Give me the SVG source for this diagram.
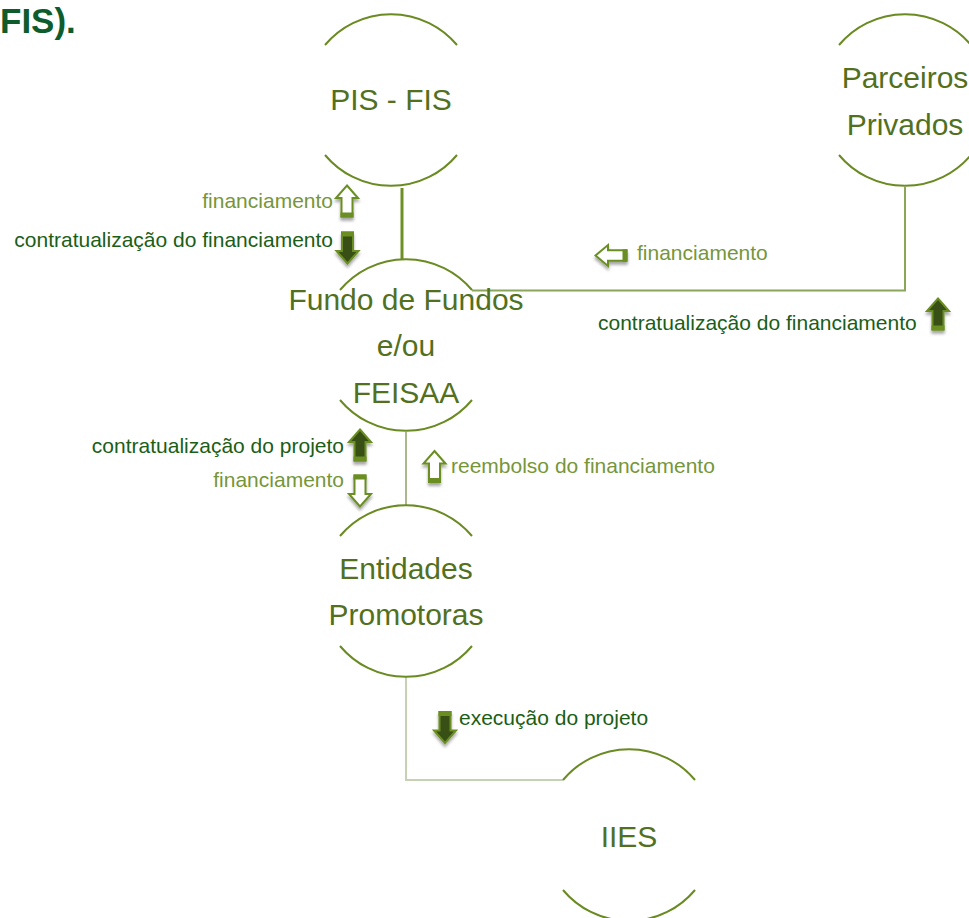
<svg xmlns="http://www.w3.org/2000/svg" xmlns:xlink="http://www.w3.org/1999/xlink" width="969" height="918" viewBox="0 0 969 918">
<style>
.arc{fill:none;stroke:#6a8a22;stroke-width:2}
.nt{font-family:"Liberation Sans",Arial,sans-serif;font-size:30px;fill:#52701d;text-anchor:middle}
.lbl{font-family:"Liberation Sans",Arial,sans-serif;font-size:21px}
.lt{fill:#76963a}
.dk{fill:#1a5e17}
.title{font-family:"Liberation Sans",Arial,sans-serif;font-size:35px;font-weight:bold;fill:#0e5c2c}
</style>
<defs>
<filter id="sh" x="-50%" y="-50%" width="200%" height="200%">
<feDropShadow dx="0" dy="3" stdDeviation="1.5" flood-color="#000" flood-opacity="0.35"/>
</filter>
<g id="aHollow">
<path d="M0,-15.5 L11,-3 L5.5,-3 L5.5,15.5 L-5.5,15.5 L-5.5,-3 L-11,-3 Z" fill="#fff" stroke="#6a8e22" stroke-width="2" stroke-linejoin="miter"/>
<rect x="-6.5" y="11.5" width="13" height="5" fill="#6a8e22"/>
</g>
<g id="aFilled">
<path d="M0,-15.5 L11,-3 L5.5,-3 L5.5,15.5 L-5.5,15.5 L-5.5,-3 L-11,-3 Z" fill="#384f13" stroke="#6a8e22" stroke-width="2" stroke-linejoin="miter"/>
<rect x="-6.5" y="11.5" width="13" height="5" fill="#6a8e22"/>
</g>
</defs>

<text class="title" x="0" y="33">FIS).</text>

<g id="connectors">
<line x1="402" y1="188" x2="402" y2="259" stroke="#6e8f24" stroke-width="3"/>
<polyline points="472,290.5 905,290.5 905,187" fill="none" stroke="#8aa65a" stroke-width="2"/>
<line x1="406" y1="432" x2="406" y2="505" stroke="#a9b98d" stroke-width="2"/>
<polyline points="406,677 406,780 563,780" fill="none" stroke="#c5d1b3" stroke-width="2"/>
</g>

<g id="node-pis">
<path class="arc" d="M325,45 A86,86 0 0,1 457,45"/>
<path class="arc" d="M325,155 A86,86 0 0,0 457,155"/>
<text class="nt" x="391" y="110">PIS - FIS</text>
</g>

<g id="node-parceiros">
<path class="arc" d="M839,45 A86,86 0 0,1 971,45"/>
<path class="arc" d="M839,155 A86,86 0 0,0 971,155"/>
<text class="nt" x="905" y="88">Parceiros</text>
<text class="nt" x="905" y="135">Privados</text>
</g>

<g id="node-fundo">
<path class="arc" d="M340,290 A86,86 0 0,1 472,290"/>
<path class="arc" d="M340,400 A86,86 0 0,0 472,400"/>
<text class="nt" x="406" y="310">Fundo de Fundos</text>
<text class="nt" x="406" y="356">e/ou</text>
<text class="nt" x="406" y="403">FEISAA</text>
</g>

<g id="node-entidades">
<path class="arc" d="M340,536 A86,86 0 0,1 472,536"/>
<path class="arc" d="M340,646 A86,86 0 0,0 472,646"/>
<text class="nt" x="406" y="579">Entidades</text>
<text class="nt" x="406" y="625">Promotoras</text>
</g>

<g id="node-iies">
<path class="arc" d="M563,780 A86,86 0 0,1 695,780"/>
<path class="arc" d="M563,890 A86,86 0 0,0 695,890"/>
<text class="nt" x="629" y="847">IIES</text>
</g>

<g id="labels">
<text class="lbl lt" x="333" y="208" text-anchor="end">financiamento</text>
<g filter="url(#sh)"><use xlink:href="#aHollow" transform="translate(347,201)"/></g>
<text class="lbl dk" x="333" y="247" text-anchor="end">contratualização do financiamento</text>
<g filter="url(#sh)"><use xlink:href="#aFilled" transform="translate(347.5,248) rotate(180)"/></g>

<g filter="url(#sh)"><use xlink:href="#aHollow" transform="translate(611,255.5) rotate(-90) scale(0.95,1)"/></g>
<text class="lbl lt" x="637" y="260">financiamento</text>
<text class="lbl dk" x="598" y="330">contratualização do financiamento</text>
<g filter="url(#sh)"><use xlink:href="#aFilled" transform="translate(938,314)"/></g>

<text class="lbl dk" x="344" y="453" text-anchor="end">contratualização do projeto</text>
<g filter="url(#sh)"><use xlink:href="#aFilled" transform="translate(360,445)"/></g>
<text class="lbl lt" x="344" y="487" text-anchor="end">financiamento</text>
<g filter="url(#sh)"><use xlink:href="#aHollow" transform="translate(360,491) rotate(180)"/></g>

<g filter="url(#sh)"><use xlink:href="#aHollow" transform="translate(434.5,466.5)"/></g>
<text class="lbl lt" x="451" y="473">reembolso do financiamento</text>

<g filter="url(#sh)"><use xlink:href="#aFilled" transform="translate(445,727.5) rotate(180)"/></g>
<text class="lbl dk" x="459" y="725">execução do projeto</text>
</g>
</svg>
